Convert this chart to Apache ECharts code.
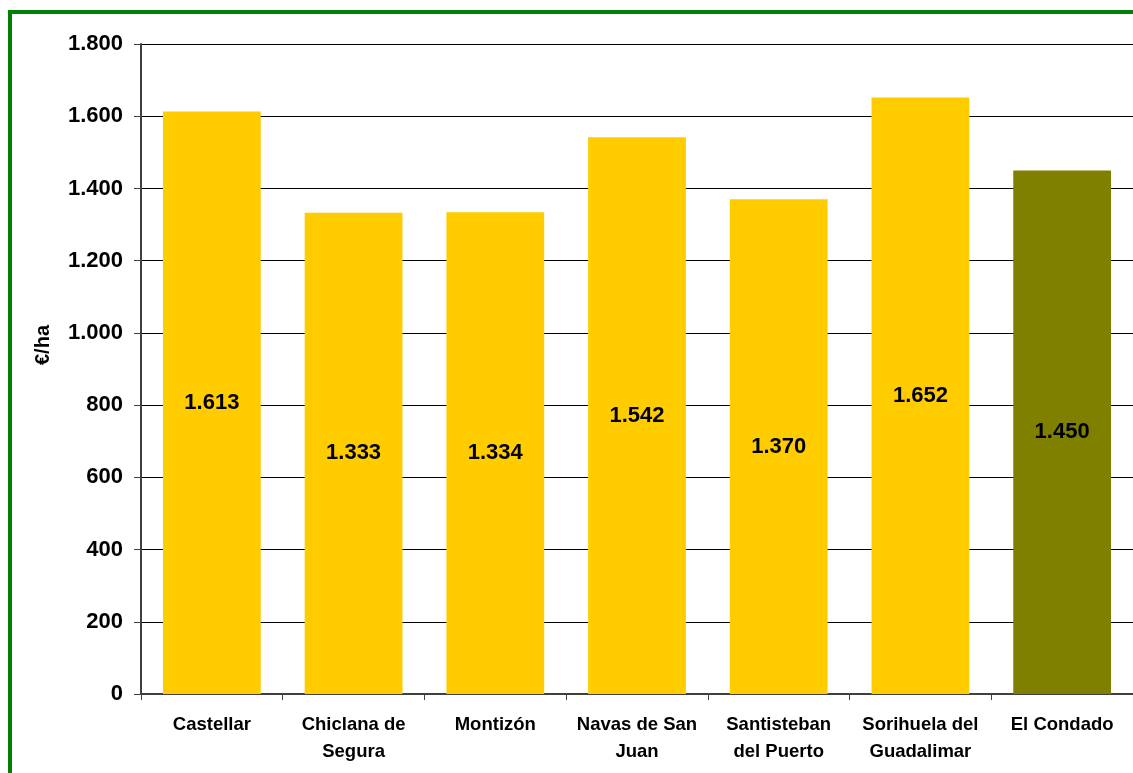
<!DOCTYPE html>
<html>
<head>
<meta charset="utf-8">
<script src="https://cdn.jsdelivr.net/npm/echarts@6/dist/echarts.min.js"></script>
<style>
  html, body { margin: 0; padding: 0; background: #fff; }
  #frame { position: absolute; left: 8px; top: 10px; width: 1140px; height: 780px; border: 4px solid #008000; box-sizing: border-box; }
  #chart { position: absolute; left: 0; top: 0; width: 1133px; height: 773px; }
</style>
</head>
<body>
<div id="frame"></div>
<div id="chart"></div>
<script>
// datos de la comarca
var categories = ['Castellar', 'Chiclana de\nSegura', 'Montizón', 'Navas de San\nJuan', 'Santisteban\ndel Puerto', 'Sorihuela del\nGuadalimar', 'El Condado'];
var values = [1613, 1333, 1334, 1542, 1370, 1652, 1450];
var barColors = ['#FFCC00', '#FFCC00', '#FFCC00', '#FFCC00', '#FFCC00', '#FFCC00', '#808000'];

function fmt(v) {
    return String(v).replace(/\B(?=(\d{3})+(?!\d))/g, '.');
}

var chart = echarts.init(document.getElementById('chart'));
var option = {
    animation: false,
    grid: { left: 141, right: 0, top: 44, bottom: 79 },
    xAxis: {
        type: 'category',
        data: categories,
        axisLine: { lineStyle: { color: '#404040', width: 2 } },
        axisTick: { show: true, length: 6, lineStyle: { color: '#404040' } },
        axisLabel: {
            margin: 17,
            fontFamily: 'Liberation Sans',
            fontWeight: 'bold',
            fontSize: 18.5,
            lineHeight: 27,
            color: '#000',
            interval: 0
        }
    },
    yAxis: {
        type: 'value',
        min: 0,
        max: 1800,
        interval: 200,
        name: '€/ha',
        nameLocation: 'middle',
        nameGap: 88,
        nameTextStyle: {
            fontFamily: 'Liberation Sans',
            fontWeight: 'bold',
            fontSize: 20,
            color: '#000',
            padding: [0, 0, 0, 48]
        },
        axisLine: { show: true, lineStyle: { color: '#404040', width: 2 } },
        axisTick: { show: true, length: 7, lineStyle: { color: '#404040' } },
        splitLine: { lineStyle: { color: '#000', width: 1 } },
        axisLabel: {
            margin: 18,
            fontFamily: 'Liberation Sans',
            fontWeight: 'bold',
            fontSize: 22,
            color: '#000',
            formatter: fmt
        }
    },
    series: [{
        type: 'bar',
        data: values,
        barCategoryGap: '31%',
        itemStyle: {
            color: function (p) { return barColors[p.dataIndex]; }
        },
        label: {
            show: true,
            position: 'inside',
            fontFamily: 'Liberation Sans',
            fontWeight: 'bold',
            fontSize: 22,
            color: '#000',
            formatter: function (p) { return fmt(p.value); }
        }
    }]
};
chart.setOption(option);
</script>
</body>
</html>
